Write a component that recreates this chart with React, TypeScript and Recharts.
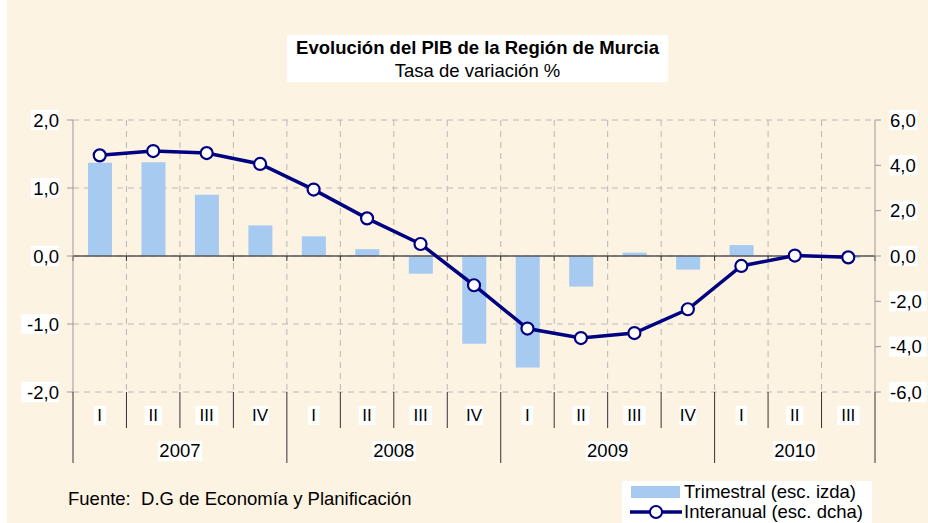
import { Bar, CartesianGrid, ComposedChart, Line, ReferenceLine, XAxis, YAxis } from 'recharts'

const quarters = ['I', 'II', 'III', 'IV', 'I', 'II', 'III', 'IV', 'I', 'II', 'III', 'IV', 'I', 'II', 'III']
const years = ['2007', '2007', '2007', '2007', '2008', '2008', '2008', '2008', '2009', '2009', '2009', '2009', '2010', '2010', '2010']
const trimestral = [1.37, 1.38, 0.9, 0.45, 0.29, 0.1, -0.26, -1.29, -1.64, -0.45, 0.05, -0.2, 0.16, 0.0, -0.03]
const interanual = [4.44, 4.63, 4.54, 4.06, 2.93, 1.66, 0.53, -1.29, -3.2, -3.62, -3.4, -2.35, -0.44, 0.02, -0.06]
const leftTicks = [-2, -1, 0, 1, 2]
const rightTicks = [-6, -4, -2, 0, 2, 4, 6]

const data = quarters.map((q, i) => ({ q, year: years[i], trimestral: trimestral[i], interanual: interanual[i] }))

const FONT = '"Liberation Sans", Arial, sans-serif'
const BG = '#fdf3e3'
const FS = 18.5
const fmt = (v: number) => v.toFixed(1).replace('.', ',')

function ValueTick({ x, y, payload, side }: any) {
  const label = fmt(payload.value)
  const w = label.length * 9.4
  const rx = side === 'left' ? x - w : x
  return (
    <g>
      <rect x={rx} y={y - 10} width={w} height={20} fill="#fff" />
      <text x={side === 'left' ? x : x + 1} y={y + 6.5} textAnchor={side === 'left' ? 'end' : 'start'} fontSize={FS} fontFamily={FONT} fill="#000">
        {label}
      </text>
    </g>
  )
}

function CategoryTick({ x, y, payload, width }: any) {
  const i = payload.index
  const bw = width / quarters.length
  const yearStart = i === 0 || years[i] !== years[i - 1]
  const groupSize = years.filter((yy) => yy === years[i]).length
  const last = i === quarters.length - 1
  const qw = quarters[i].length * 5.5 + 6
  const yx = x + ((groupSize - 1) * bw) / 2
  return (
    <g>
      <line x1={x - bw / 2} x2={x - bw / 2} y1={y} y2={y + (yearStart ? 71 : 36)} stroke="#333" strokeWidth={1} />
      {last && <line x1={x + bw / 2} x2={x + bw / 2} y1={y} y2={y + 71} stroke="#333" strokeWidth={1} />}
      <rect x={x - qw / 2} y={y + 14} width={qw} height={19} fill="#fff" />
      <text x={x} y={y + 29} textAnchor="middle" fontSize={17} fontFamily={FONT} fill="#000">
        {quarters[i]}
      </text>
      {yearStart && (
        <g>
          <rect x={yx - 22} y={y + 49} width={44} height={20} fill="#fff" />
          <text x={yx} y={y + 65} textAnchor="middle" fontSize={FS} fontFamily={FONT} fill="#000">
            {years[i]}
          </text>
        </g>
      )}
    </g>
  )
}

// zero line with the small category-boundary tick marks hanging below it
function ZeroLine({ x1, x2, y1 }: any) {
  const n = quarters.length
  const bw = (x2 - x1) / n
  return (
    <g>
      <line x1={x1} x2={x2} y1={y1} y2={y1} stroke="#555" strokeWidth={1.5} />
      {Array.from({ length: n + 1 }, (_, i) => (
        <line key={i} x1={x1 + i * bw} x2={x1 + i * bw} y1={y1} y2={y1 + 5} stroke="#333" strokeWidth={1} />
      ))}
    </g>
  )
}

export default function App() {
  return (
    <div style={{ position: 'absolute', left: 0, top: 0, width: 928, height: 523, background: '#fff', fontFamily: FONT, overflow: 'hidden' }}>
      <div style={{ position: 'absolute', left: 7, top: 0, width: 921, height: 523, background: BG }} />
      <div
        style={{
          position: 'absolute',
          left: 287,
          top: 35,
          width: 381,
          height: 47,
          background: '#fff',
          textAlign: 'center',
          fontSize: FS,
          lineHeight: '23px',
          paddingTop: 1,
          boxSizing: 'border-box',
        }}
      >
        <div style={{ fontWeight: 'bold', whiteSpace: 'nowrap' }}>Evolución del PIB de la Región de Murcia</div>
        <div>Tasa de variación %</div>
      </div>
      <div style={{ position: 'absolute', left: 0, top: 0 }}>
        <ComposedChart width={928} height={523} data={data} margin={{ top: 120, right: 0, bottom: 56, left: 0 }}>
          <CartesianGrid
            yAxisId="left"
            stroke="#b8b8b8"
            strokeDasharray="6 5"
            verticalCoordinatesGenerator={({ offset }: any) =>
              quarters.map((_, i) => offset.left + (i * offset.width) / quarters.length).slice(1)
            }
          />
          <XAxis dataKey="q" interval={0} axisLine={false} tickLine={false} tickSize={0} tickMargin={0} height={75} tick={<CategoryTick />} />
          <YAxis
            yAxisId="left"
            orientation="left"
            domain={[-2, 2]}
            ticks={leftTicks}
            width={73}
            axisLine={{ stroke: '#999' }}
            tickLine={{ stroke: '#999' }}
            tickSize={6}
            tickMargin={8}
            tick={<ValueTick side="left" />}
          />
          <YAxis
            yAxisId="right"
            orientation="right"
            domain={[-6, 6]}
            ticks={rightTicks}
            width={53}
            axisLine={{ stroke: '#999' }}
            tickLine={{ stroke: '#999' }}
            tickSize={6}
            tickMargin={8}
            tick={<ValueTick side="right" />}
          />
          <ReferenceLine yAxisId="left" y={0} shape={(p: any) => <ZeroLine {...p} />} />
          <Bar yAxisId="left" dataKey="trimestral" fill="#a6caf0" barSize={24} isAnimationActive={false} />
          <Line
            yAxisId="right"
            dataKey="interanual"
            stroke="#000080"
            strokeWidth={3.5}
            dot={{ r: 6, fill: '#fff', stroke: '#000080', strokeWidth: 2.2 }}
            isAnimationActive={false}
          />
        </ComposedChart>
      </div>
      <div style={{ position: 'absolute', left: 68, top: 488, fontSize: FS, whiteSpace: 'nowrap' }}>Fuente:&nbsp; D.G de Economía y Planificación</div>
      <div style={{ position: 'absolute', left: 622, top: 481, width: 250, height: 42, background: '#fff', fontSize: FS, lineHeight: '20px' }}>
        <div style={{ display: 'flex', alignItems: 'center', height: 21, whiteSpace: 'nowrap' }}>
          <div style={{ width: 49, height: 12, background: '#a6caf0', marginLeft: 9, marginRight: 4 }} />
          <span>Trimestral (esc. izda)</span>
        </div>
        <div style={{ display: 'flex', alignItems: 'center', height: 20, whiteSpace: 'nowrap' }}>
          <svg width={52} height={16} style={{ marginLeft: 8, marginRight: 2 }}>
            <line x1={0} x2={52} y1={8} y2={8} stroke="#000080" strokeWidth={3.5} />
            <circle cx={26} cy={8} r={6} fill="#fff" stroke="#000080" strokeWidth={2} />
          </svg>
          <span>Interanual (esc. dcha)</span>
        </div>
      </div>
    </div>
  )
}
